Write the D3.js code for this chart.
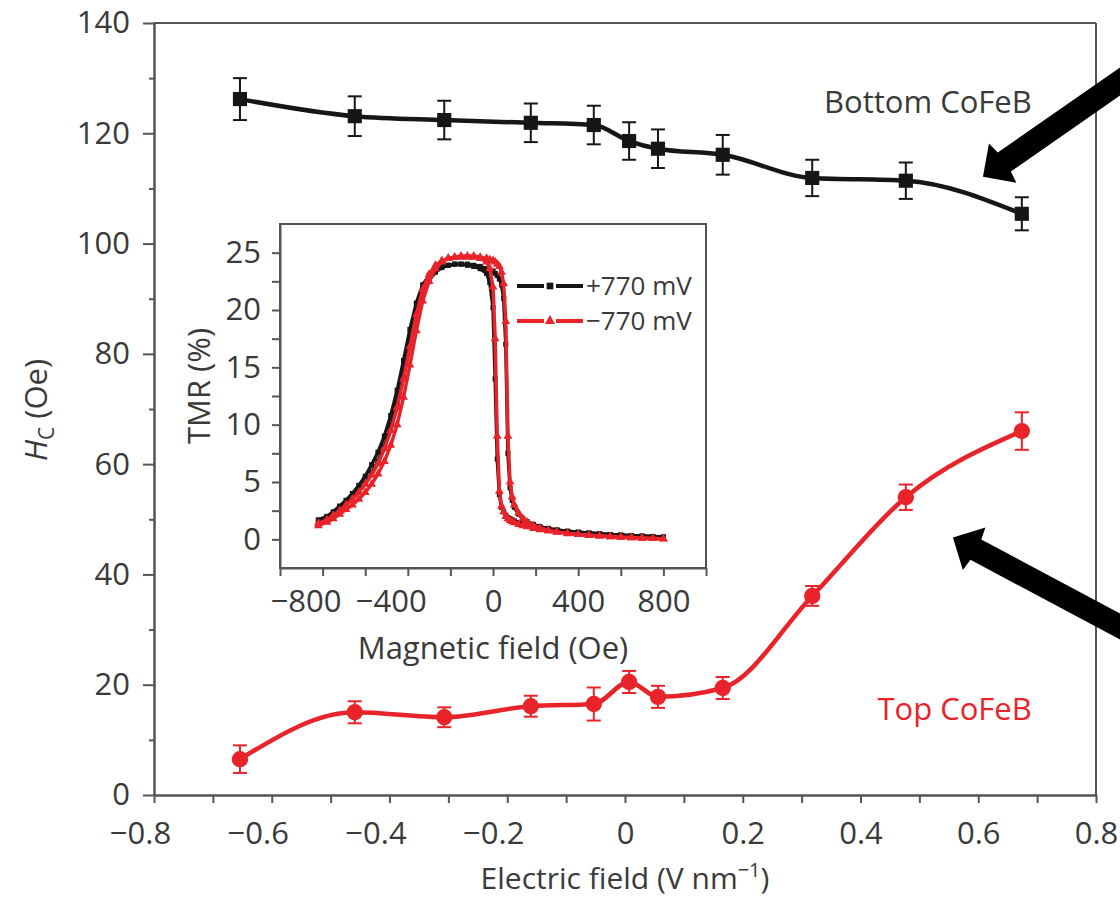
<!DOCTYPE html>
<html><head><meta charset="utf-8">
<script src="https://cdn.jsdelivr.net/npm/d3@7"></script>
<style>
body{margin:0;background:#fff}
svg text{font-family:'Open Sans',sans-serif;fill:#3a3a3a}
</style>
</head><body>
<svg id="chart" width="1120" height="900"></svg>
<script>
// ---------- main panel data ----------
const electricField = [-0.654,-0.459,-0.307,-0.160,-0.053,0.007,0.056,0.166,0.318,0.477,0.674];
const bottomHc  = [126.2,123.1,122.4,121.9,121.5,118.6,117.2,116.1,111.9,111.4,105.4];
const bottomErr = [3.8,3.6,3.5,3.5,3.5,3.4,3.5,3.6,3.3,3.3,3.0];
const topHc     = [6.5,15.0,14.1,16.1,16.5,20.5,17.8,19.4,36.1,54.0,66.0];
const topErr    = [2.5,2.0,1.8,1.9,3.0,2.0,2.0,2.0,1.8,2.3,3.4];
const xTicks = [-0.8,-0.6,-0.4,-0.2,0,0.2,0.4,0.6,0.8];
const xMinorTicks = [-0.7,-0.5,-0.3,-0.1,0.1,0.3,0.5,0.7];
const yTicks = [0,20,40,60,80,100,120,140];
const yMinorTicks = [10,30,50,70,90,110,130];
// annotation arrows [tipE, tipHc, tailE, tailHc]
const arrows = [[0.608,112.1,0.93,136.0],[0.557,46.7,0.93,25.5]];

// ---------- inset data (TMR loops) ----------
const magField = [-820,-780,-750,-720,-690,-660,-630,-600,-570,-540,-510,-480,-450,-420,-390,-360,-330,-300,-270,-240,-210,-180,-150,-120,-90,-60,-30,-15,0,10,20,30,40,50,60,70,80,90,100,120,140,160,190,220,260,300,350,400,450,500,550,600,650,700,750,800];
const tmrPlusUp   = [1.5,1.8,2.2,2.6,3.1,3.6,4.2,4.9,5.8,6.8,8.1,9.8,11.8,14.3,17.0,19.6,21.5,22.6,23.3,23.7,23.9,24.0,24.0,24.0,23.9,23.8,23.6,23.5,23.4,23.2,23.0,22.7,22.2,21.0,17.0,7.5,4.5,3.4,2.8,2.2,1.8,1.55,1.3,1.1,0.95,0.82,0.7,0.62,0.55,0.48,0.42,0.37,0.32,0.28,0.24,0.2];
const tmrPlusDown = [1.7,2.0,2.4,2.9,3.4,4.0,4.7,5.5,6.5,7.6,9.0,10.8,13.0,15.6,18.3,20.6,22.2,23.0,23.5,23.8,23.9,24.0,24.0,23.9,23.8,23.6,23.2,22.4,20.2,14.0,7.0,3.9,2.8,2.4,2.1,1.9,1.8,1.7,1.6,1.45,1.35,1.25,1.15,1.05,0.92,0.8,0.7,0.62,0.55,0.48,0.42,0.37,0.32,0.28,0.24,0.2];
const tmrMinusUp   = [1.2,1.5,1.8,2.2,2.6,3.0,3.5,4.1,4.8,5.7,6.8,8.2,10.0,12.4,15.2,18.2,20.8,22.5,23.6,24.2,24.5,24.6,24.7,24.7,24.7,24.6,24.5,24.4,24.3,24.2,24.0,23.8,23.3,22.3,19.0,9.0,5.0,3.7,3.0,2.3,1.8,1.5,1.2,1.0,0.8,0.65,0.52,0.43,0.36,0.3,0.24,0.19,0.15,0.11,0.08,0.05];
const tmrMinusDown = [1.4,1.7,2.1,2.5,3.0,3.5,4.1,4.8,5.6,6.6,7.9,9.5,11.5,14.0,16.8,19.6,21.8,23.1,23.9,24.3,24.5,24.6,24.6,24.6,24.6,24.5,24.2,23.6,22.0,17.5,9.0,4.2,2.9,2.4,2.0,1.8,1.65,1.55,1.45,1.3,1.2,1.1,0.95,0.85,0.73,0.62,0.5,0.42,0.35,0.29,0.23,0.18,0.14,0.1,0.07,0.04];
const insetXTicks = [-1000,-800,-600,-400,-200,0,200,400,600,800,1000];
const insetXLabels = [-800,-400,0,400,800];
const insetYTicks = [0,2.5,5,7.5,10,12.5,15,17.5,20,22.5,25];
const insetYLabels = [0,5,10,15,20,25];
const legendLabels = ['+770 mV','\u2212770 mV'];

const RED = '#e8232a', BLACK = '#161616', AXIS = '#555';
const svg = d3.select('#chart');

// ---------- main scales ----------
const x = d3.scaleLinear().domain([-0.8,0.8]).range([154,1096]);
const y = d3.scaleLinear().domain([0,140]).range([795,23]);
const fmt = d => d3.format('')(d).replace('-','\u2212');

function styleAxis(g){
  g.selectAll('.domain').attr('stroke',AXIS).attr('stroke-width',2);
  g.selectAll('.tick line').attr('stroke',AXIS).attr('stroke-width',2);
  g.selectAll('text').attr('fill','#3a3a3a').style('font-size','31px').style('font-family',"'Open Sans',sans-serif");
}
// box
svg.append('line').attr('x1',x(-0.8)).attr('x2',x(0.8)).attr('y1',y(140)).attr('y2',y(140)).attr('stroke',AXIS).attr('stroke-width',2);
svg.append('line').attr('x1',x(0.8)).attr('x2',x(0.8)).attr('y1',y(140)).attr('y2',y(0)).attr('stroke',AXIS).attr('stroke-width',2);
// x axis
svg.append('g').attr('transform',`translate(0,${y(0)})`)
  .call(d3.axisBottom(x).tickValues(xMinorTicks).tickSize(8).tickSizeOuter(0).tickFormat(''))
  .call(styleAxis);
const xa = svg.append('g').attr('transform',`translate(0,${y(0)})`)
  .call(d3.axisBottom(x).tickValues(xTicks).tickSize(8).tickSizeOuter(0).tickPadding(19).tickFormat(fmt))
  .call(styleAxis);
xa.selectAll('text').attr('dx',d=>d<0?-14:0);
// y axis
svg.append('g').attr('transform',`translate(${x(-0.8)},0)`)
  .call(d3.axisLeft(y).tickValues(yMinorTicks).tickSize(5).tickSizeOuter(0).tickFormat(''))
  .call(styleAxis);
svg.append('g').attr('transform',`translate(${x(-0.8)},0)`)
  .call(d3.axisLeft(y).tickValues(yTicks).tickSize(11).tickSizeOuter(0).tickPadding(13).tickFormat(d3.format('d')))
  .call(styleAxis);

// axis titles
const xt = svg.append('text').attr('x',625).attr('y',889).attr('text-anchor','middle').style('font-size','30px');
xt.append('tspan').text('Electric field (V nm');
xt.append('tspan').text('\u22121').attr('dy',-12).style('font-size','20px');
xt.append('tspan').text(')').attr('dy',12);
const yt = svg.append('text').attr('transform','translate(47,410) rotate(-90)').attr('text-anchor','middle').style('font-size','31px');
yt.append('tspan').text('H').style('font-style','italic');
yt.append('tspan').text('C').attr('dy',7).style('font-size','21px');
yt.append('tspan').text(' (Oe)').attr('dy',-7);

// series
const line = d3.line().curve(d3.curveMonotoneX);
function drawSeries(vals, errs, color, marker){
  const pts = electricField.map((e,i)=>[x(e), y(vals[i])]);
  svg.append('path').attr('d',line(pts)).attr('fill','none').attr('stroke',color).attr('stroke-width',4.5).attr('stroke-linejoin','round');
  const g = svg.append('g').attr('stroke',color).attr('stroke-width',2);
  electricField.forEach((e,i)=>{
    const cx = x(e), y1 = y(vals[i]+errs[i]), y2 = y(vals[i]-errs[i]);
    g.append('line').attr('x1',cx).attr('x2',cx).attr('y1',y1).attr('y2',y2);
    g.append('line').attr('x1',cx-7).attr('x2',cx+7).attr('y1',y1).attr('y2',y1);
    g.append('line').attr('x1',cx-7).attr('x2',cx+7).attr('y1',y2).attr('y2',y2);
  });
  const sym = d3.symbol().type(marker === 'square' ? d3.symbolSquare : d3.symbolCircle).size(marker==='square'?200:210);
  svg.append('g').selectAll('path').data(pts).join('path')
    .attr('transform',d=>`translate(${d[0]},${d[1]})`).attr('d',sym()).attr('fill',color);
}
drawSeries(bottomHc, bottomErr, BLACK, 'square');
drawSeries(topHc, topErr, RED, 'circle');

svg.append('text').attr('x',x(0.691)).attr('y',y(123.7)).attr('text-anchor','end').style('font-size','31px').attr('fill','#3a3a3a').text('Bottom CoFeB');
svg.append('text').attr('x',x(0.691)).attr('y',y(13.6)).attr('text-anchor','end').style('font-size','31px').style('fill',RED).text('Top CoFeB');

// arrows
function arrow(a){
  const tip=[x(a[0]),y(a[1])], tail=[x(a[2]),y(a[3])];
  const dx=tail[0]-tip[0], dy=tail[1]-tip[1], L=Math.hypot(dx,dy);
  const u=[dx/L,dy/L], n=[-u[1],u[0]];
  const hl=26, hw=24, sw=11.5;
  const P=(a,b)=>[tip[0]+u[0]*a+n[0]*b, tip[1]+u[1]*a+n[1]*b];
  const pts=[P(0,0),P(hl-2,hw),P(hl,sw),P(L,sw),P(L,-sw),P(hl,-sw),P(hl-2,-hw)];
  svg.append('path').attr('d','M'+pts.map(p=>p.join(',')).join('L')+'Z').attr('fill','#000');
}
arrows.forEach(arrow);

// ---------- inset ----------
const ix = d3.scaleLinear().domain([-1000,1000]).range([280,706]);
const iy = d3.scaleLinear().domain([-2.5,27.5]).range([568,224]);
const inset = svg.append('g');
inset.append('rect').attr('x',ix(-1000)).attr('y',iy(27.5)).attr('width',ix(1000)-ix(-1000)).attr('height',iy(-2.5)-iy(27.5))
  .attr('fill','#fff').attr('stroke',AXIS).attr('stroke-width',2);
inset.append('g').attr('transform',`translate(0,${iy(-2.5)})`)
  .call(d3.axisBottom(ix).tickValues(insetXTicks).tickSize(8).tickSizeOuter(0).tickFormat(''))
  .call(styleAxis);
const xl = inset.append('g').attr('transform',`translate(0,${iy(-2.5)})`)
  .call(d3.axisBottom(ix).tickValues(insetXLabels).tickSize(0).tickSizeOuter(0).tickPadding(22).tickFormat(fmt))
  .call(styleAxis);
xl.select('.domain').remove();
xl.selectAll('text').attr('dx',d=>d<0?-17:0);
inset.append('g').attr('transform',`translate(${ix(-1000)},0)`)
  .call(d3.axisLeft(iy).tickValues(insetYTicks).tickSize(8).tickSizeOuter(0).tickFormat(''))
  .call(styleAxis);
const yl = inset.append('g').attr('transform',`translate(${ix(-1000)},0)`)
  .call(d3.axisLeft(iy).tickValues(insetYLabels).tickSize(0).tickSizeOuter(0).tickPadding(19).tickFormat(d3.format('d')))
  .call(styleAxis);
yl.select('.domain').remove();
inset.append('text').attr('transform','translate(210,386) rotate(-90)').attr('text-anchor','middle').style('font-size','31px').text('TMR (%)');
inset.append('text').attr('x',ix(0)).attr('y',659).attr('text-anchor','middle').style('font-size','31px').text('Magnetic field (Oe)');

const iline = d3.line().curve(d3.curveLinear);
function drawLoop(vals, color, marker){
  const pts = magField.map((h,i)=>[ix(h), iy(vals[i])]);
  inset.append('path').attr('d',iline(pts)).attr('fill','none').attr('stroke',color).attr('stroke-width',3.5);
  const sym = d3.symbol().type(marker==='square'?d3.symbolSquare:d3.symbolTriangle).size(marker==='square'?26:34);
  inset.append('g').selectAll('path').data(pts).join('path')
    .attr('transform',d=>`translate(${d[0]},${d[1]})`).attr('d',sym()).attr('fill',color);
}
drawLoop(tmrPlusUp, BLACK, 'square');
drawLoop(tmrPlusDown, BLACK, 'square');
drawLoop(tmrMinusUp, RED, 'triangle');
drawLoop(tmrMinusDown, RED, 'triangle');

// legend
const legY = [286,321], legColor=[BLACK,RED], legMarker=[d3.symbolSquare,d3.symbolTriangle];
legendLabels.forEach((lab,i)=>{
  const g = inset.append('g');
  g.append('line').attr('x1',517).attr('x2',544).attr('y1',legY[i]).attr('y2',legY[i]).attr('stroke',legColor[i]).attr('stroke-width',4);
  g.append('line').attr('x1',556).attr('x2',583).attr('y1',legY[i]).attr('y2',legY[i]).attr('stroke',legColor[i]).attr('stroke-width',4);
  g.append('path').attr('transform',`translate(550,${legY[i]})`).attr('d',d3.symbol().type(legMarker[i]).size(45)()).attr('fill',legColor[i]);
  g.append('text').attr('x',586).attr('y',legY[i]).attr('dy','0.36em').style('font-size','26px').text(lab);
});
</script>
</body></html>
